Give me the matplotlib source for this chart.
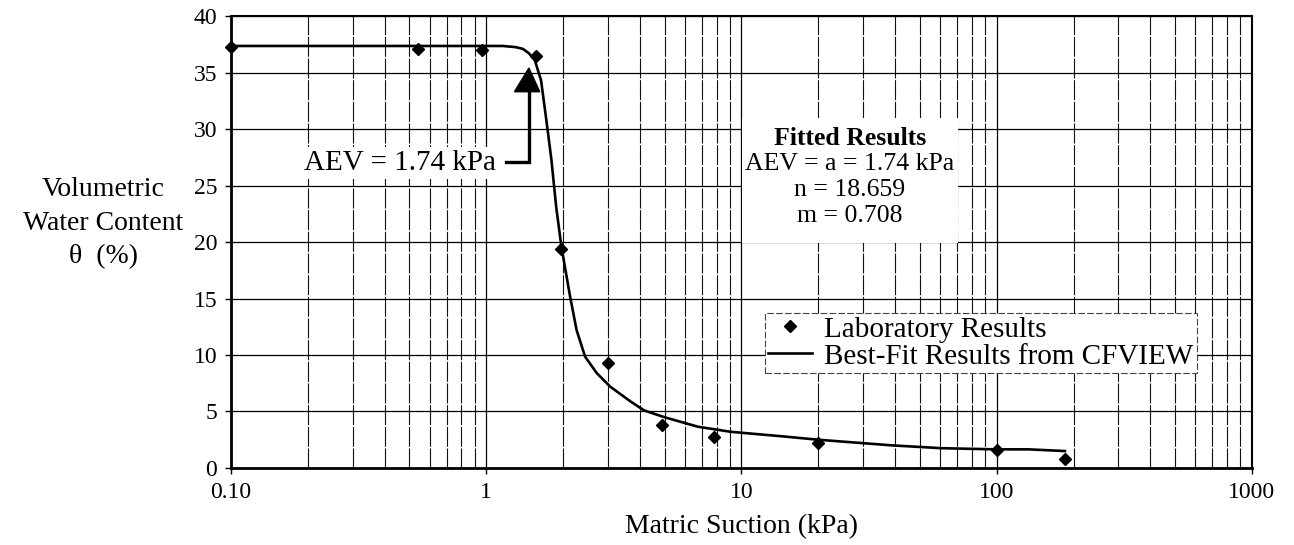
import matplotlib
matplotlib.use("Agg")
import matplotlib.pyplot as plt
from matplotlib.patches import Rectangle
from matplotlib.ticker import FixedLocator, NullFormatter

# ── Data ────────────────────────────────────────────────────────────────────
lab_suction = [0.1, 0.54, 0.96, 1.56, 1.97, 3.0, 4.9, 7.8, 20, 100, 185]
lab_theta = [37.3, 37.1, 37.0, 36.5, 19.4, 9.25, 3.8, 2.7, 2.25, 1.6, 0.8]

fit_suction = [0.1, 0.3, 0.6, 1.0, 1.16, 1.3, 1.39, 1.47, 1.55, 1.64, 1.72,
               1.80, 1.88, 1.97, 2.13, 2.26, 2.44, 2.71, 3.06, 3.67, 4.15,
               4.98, 6.76, 9.1, 14.5, 20, 39, 61, 100, 133, 185]
fit_theta = [37.35, 37.35, 37.35, 37.35, 37.35, 37.25, 37.1, 36.7, 36.1, 34.3,
             30.8, 27.3, 23.1, 19.6, 15.2, 12.2, 9.85, 8.4, 7.2, 5.9, 5.1,
             4.5, 3.65, 3.2, 2.8, 2.5, 2.0, 1.75, 1.65, 1.65, 1.5]

x_ticks = [0.1, 1, 10, 100, 1000]
x_tick_labels = ["0.10", "1", "10", "100", "1000"]
y_ticks = list(range(0, 45, 5))

fit_lines = ["AEV = a = 1.74 kPa", "n = 18.659", "m = 0.708"]

plt.rcParams["font.family"] = ["Liberation Serif", "DejaVu Serif"]

fig = plt.figure(figsize=(12.94, 5.45), dpi=100)
ax = fig.add_axes([0.1785, 0.1413, 0.789, 0.8293])

ax.set_xscale("log")
ax.set_xlim(0.1, 1000)
ax.set_ylim(0, 40)

ax.set_xticks(x_ticks)
ax.set_xticklabels(x_tick_labels)
ax.xaxis.set_minor_locator(FixedLocator(
    [m * 10.0 ** e for e in range(-1, 3) for m in range(2, 10)]))
ax.xaxis.set_minor_formatter(NullFormatter())
ax.set_yticks(y_ticks)
ax.tick_params(axis="both", which="major", labelsize=17, length=4,
               width=1, direction="out", color="black", pad=6)
ax.tick_params(axis="x", which="minor", length=0)

# grid
ax.set_axisbelow(True)
ax.grid(True, which="major", axis="both", color="black", linewidth=0.9)
ax.grid(True, which="minor", axis="x", color="#111111", linewidth=0.8,
        linestyle=(0, (18, 1.5)))

for side in ("left", "bottom"):
    ax.spines[side].set_linewidth(2.0)
for side in ("top", "right"):
    ax.spines[side].set_linewidth(1.5)

# data
ax.plot(fit_suction, fit_theta, color="black", linewidth=1.9, zorder=4,
        label="Best-Fit Results from CFVIEW")
ax.plot(lab_suction, lab_theta, linestyle="none", marker="D", markersize=6.5,
        color="black", zorder=5, clip_on=False, label="Laboratory Results")

# AEV arrow annotation
ax.text(1.095, 26.96, "AEV = 1.74 kPa", fontsize=21, ha="right", va="center",
        zorder=3, bbox=dict(facecolor="white", edgecolor="none", pad=2))
ax.plot([1.19, 1.47, 1.47], [27.1, 27.1, 33.4], color="black", linewidth=2.4,
        solid_joinstyle="miter", zorder=6)
ax.fill([1.29, 1.47, 1.62], [33.3, 35.4, 33.3], color="black", zorder=6)

# fitted-results block
ax.add_patch(Rectangle((0.501, 0.498), 0.211, 0.276, transform=ax.transAxes,
                       facecolor="white", edgecolor="none", zorder=2))
ax.text(0.606, 0.730, "Fitted Results", transform=ax.transAxes, fontsize=18.5,
        fontweight="bold", ha="center", va="center", zorder=3)
for i, line in enumerate(fit_lines):
    ax.text(0.606, 0.672 - i * 0.057, line, transform=ax.transAxes,
            fontsize=18.5, ha="center", va="center", zorder=3)

# legend
handles, labels = ax.get_legend_handles_labels()
leg = ax.legend(handles[::-1], labels[::-1], loc="lower left",
                bbox_to_anchor=(0.523, 0.21), borderaxespad=0, fontsize=21,
                frameon=True, fancybox=False, framealpha=1, borderpad=0.12,
                labelspacing=0.02, handlelength=1.5, handletextpad=0.4)
leg.get_frame().set_edgecolor("#444444")
leg.get_frame().set_linewidth(0.8)
leg.get_frame().set_linestyle((0, (6, 2)))
leg.set_zorder(7)

ax.set_xlabel("Matric Suction (kPa)", fontsize=20, labelpad=8)
fig.text(0.080, 0.590, "Volumetric\nWater Content\nθ  (%)", fontsize=20,
         ha="center", va="center", linespacing=1.45)

fig.savefig("out.png", dpi=100, facecolor="white")
